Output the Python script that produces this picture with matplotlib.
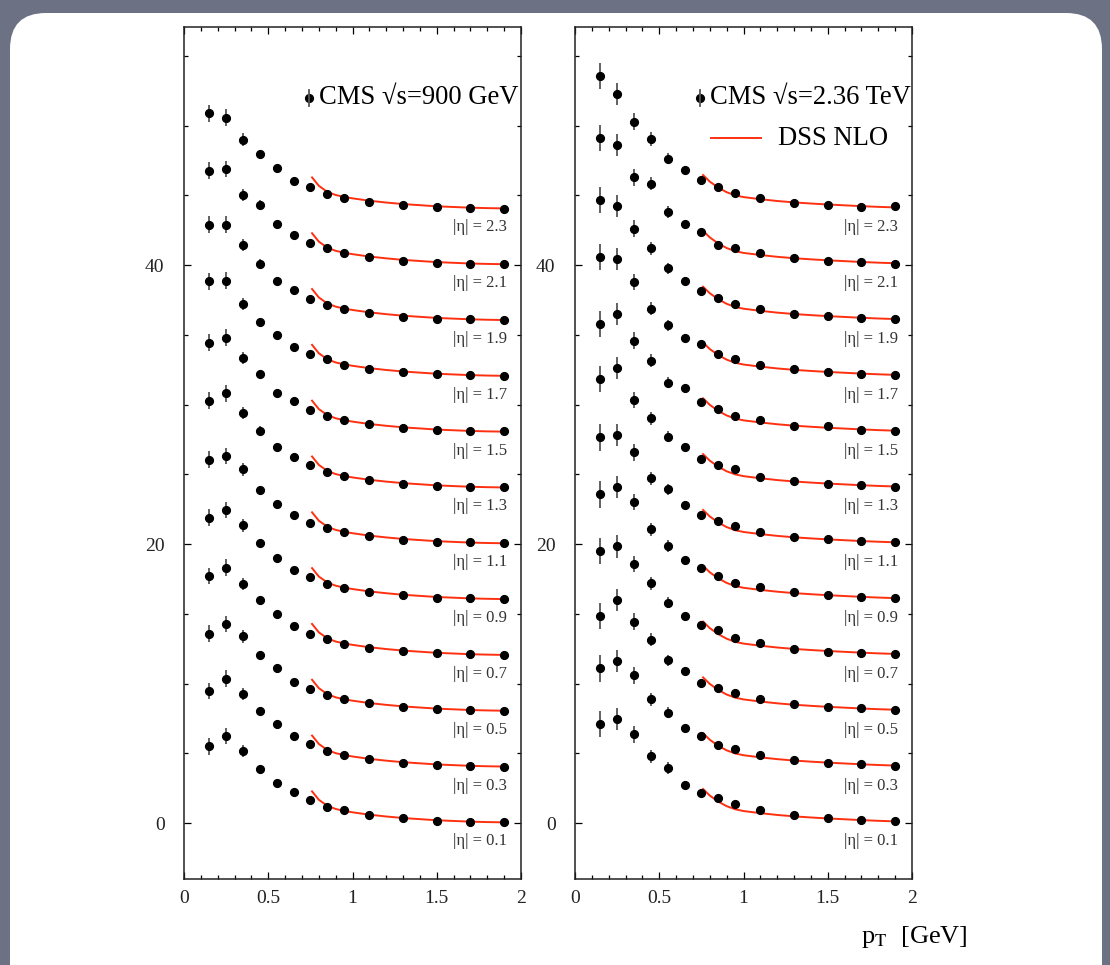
import matplotlib
matplotlib.use("Agg")
import matplotlib.pyplot as plt
from matplotlib.patches import FancyBboxPatch
from matplotlib.ticker import MultipleLocator

plt.rcParams['font.family'] = ['Liberation Serif', 'DejaVu Serif']
plt.rcParams['mathtext.fontset'] = 'stix'

# pT bins (GeV) and |eta| bins
pt = [0.15, 0.25, 0.35, 0.45, 0.55, 0.65, 0.75, 0.85, 0.95, 1.1, 1.3, 1.5, 1.7, 1.9]
eta = [0.1, 0.3, 0.5, 0.7, 0.9, 1.1, 1.3, 1.5, 1.7, 1.9, 2.1, 2.3]
shift = 4.0  # each |eta| bin is shifted up by this amount

# CMS sqrt(s)=900 GeV, one row per |eta| bin (before shift)
cms900 = [
    [5.50, 6.24, 5.16, 3.87, 2.89, 2.22, 1.63, 1.19, 0.93, 0.62, 0.36, 0.19, 0.10, 0.05],
    [5.48, 6.36, 5.27, 4.05, 3.10, 2.24, 1.66, 1.18, 0.88, 0.60, 0.34, 0.18, 0.10, 0.06],
    [5.57, 6.27, 5.39, 4.04, 3.11, 2.09, 1.65, 1.18, 0.87, 0.59, 0.33, 0.18, 0.11, 0.06],
    [5.71, 6.31, 5.13, 3.96, 2.98, 2.13, 1.57, 1.17, 0.86, 0.58, 0.33, 0.17, 0.11, 0.06],
    [5.89, 6.44, 5.34, 4.07, 3.02, 2.18, 1.66, 1.16, 0.86, 0.58, 0.32, 0.17, 0.11, 0.06],
    [6.04, 6.31, 5.35, 3.85, 2.91, 2.06, 1.51, 1.17, 0.84, 0.57, 0.31, 0.17, 0.12, 0.07],
    [6.27, 6.80, 5.41, 4.13, 2.95, 2.21, 1.64, 1.16, 0.85, 0.58, 0.32, 0.17, 0.11, 0.06],
    [6.43, 6.79, 5.33, 4.17, 2.86, 2.23, 1.63, 1.18, 0.86, 0.58, 0.32, 0.17, 0.10, 0.08],
    [6.83, 6.87, 5.20, 3.94, 3.02, 2.14, 1.64, 1.24, 0.85, 0.57, 0.31, 0.17, 0.10, 0.06],
    [6.89, 6.89, 5.43, 4.10, 2.89, 2.21, 1.58, 1.17, 0.86, 0.57, 0.31, 0.16, 0.10, 0.06],
    [6.76, 6.88, 5.02, 4.33, 2.97, 2.17, 1.60, 1.19, 0.84, 0.56, 0.31, 0.16, 0.10, 0.05],
    [6.88, 6.56, 4.98, 3.98, 2.93, 2.04, 1.61, 1.09, 0.78, 0.54, 0.30, 0.16, 0.10, 0.04],
]
err900 = [0.6, 0.6, 0.45, 0.3, 0.2, 0.15, 0.1, 0.1, 0.1, 0.08, 0.05, 0.05, 0.05, 0.05]

# CMS sqrt(s)=2.36 TeV
cms236 = [
    [7.10, 7.48, 6.36, 4.78, 3.96, 2.75, 2.15, 1.78, 1.37, 0.92, 0.58, 0.34, 0.22, 0.15],
    [7.09, 7.62, 6.61, 4.87, 3.93, 2.79, 2.24, 1.57, 1.30, 0.90, 0.55, 0.33, 0.21, 0.13],
    [6.84, 8.01, 6.43, 5.14, 3.68, 2.92, 2.06, 1.70, 1.33, 0.88, 0.52, 0.32, 0.22, 0.12],
    [7.52, 7.84, 6.57, 5.20, 3.79, 2.84, 2.17, 1.86, 1.28, 0.88, 0.50, 0.28, 0.21, 0.11],
    [7.56, 8.11, 7.01, 5.05, 3.86, 2.83, 2.26, 1.68, 1.20, 0.94, 0.54, 0.34, 0.22, 0.15],
    [7.65, 7.84, 6.57, 4.71, 3.92, 2.82, 2.08, 1.65, 1.27, 0.84, 0.50, 0.36, 0.24, 0.12],
    [7.85, 8.64, 6.32, 5.01, 3.69, 2.93, 2.11, 1.64, 1.38, 0.80, 0.54, 0.32, 0.21, 0.11],
    [7.77, 8.49, 6.57, 5.14, 3.56, 3.16, 2.20, 1.68, 1.15, 0.89, 0.48, 0.43, 0.20, 0.12],
    [8.59, 8.45, 6.78, 4.86, 3.68, 2.75, 2.34, 1.64, 1.25, 0.86, 0.52, 0.33, 0.21, 0.12],
    [8.66, 8.23, 6.60, 5.19, 3.78, 2.88, 2.16, 1.61, 1.22, 0.85, 0.50, 0.32, 0.20, 0.12],
    [9.10, 8.60, 6.29, 5.83, 3.80, 2.92, 2.34, 1.46, 1.24, 0.84, 0.49, 0.31, 0.20, 0.10],
    [9.55, 8.24, 6.27, 5.03, 3.62, 2.81, 2.09, 1.57, 1.19, 0.83, 0.47, 0.28, 0.18, 0.20],
]
err236 = [0.95, 0.8, 0.6, 0.47, 0.4, 0.25, 0.2, 0.15, 0.15, 0.1, 0.1, 0.1, 0.1, 0.1]

# DSS NLO curves (same shape for every |eta| bin)
dss_pt = [0.76, 0.8, 0.85, 0.9, 0.95, 1.0, 1.1, 1.2, 1.3, 1.4, 1.5, 1.6, 1.7, 1.8, 1.9]
dss900 = [2.28, 1.68, 1.25, 1.02, 0.88, 0.78, 0.61, 0.48, 0.37, 0.29, 0.21, 0.16, 0.11, 0.08, 0.06]
dss236 = [2.45, 1.98, 1.55, 1.22, 1.00, 0.87, 0.72, 0.59, 0.49, 0.41, 0.34, 0.28, 0.22, 0.17, 0.13]

xticks = [0, 0.5, 1, 1.5, 2]
xticklabels = ['0', '0.5', '1', '1.5', '2']
yticks = [0, 20, 40]
yticklabels = ['0', '20', '40']

W, H = 1110, 965
fig = plt.figure(figsize=(W / 100, H / 100), dpi=100)
fig.patch.set_facecolor('#6c7284')

# white slide background
bg = fig.add_axes([0, 0, 1, 1], zorder=-1)
bg.set_xlim(0, W)
bg.set_ylim(H, 0)
bg.axis('off')
bg.add_patch(FancyBboxPatch((10, 13), 1092, 1000,
                            boxstyle='round,pad=0,rounding_size=36',
                            facecolor='white', edgecolor='none'))

red = '#ff3010'
panels = [
    (184, cms900, err900, dss900, 'CMS \u221as=900 GeV', False),
    (575, cms236, err236, dss236, 'CMS \u221as=2.36 TeV', True),
]

for x0, data, err, dss, title, show_dss in panels:
    ax = fig.add_axes([x0 / W, 1 - 879 / H, 337 / W, 852 / H])
    ax.set_facecolor('white')
    for i, row in enumerate(data):
        off = shift * i
        ax.plot(dss_pt, [v + off for v in dss], color=red, lw=1.4, zorder=2)
        ax.errorbar(pt, [v + off for v in row], yerr=err, fmt='o', color='black',
                    ms=5.6, ecolor='#555555', elinewidth=1.3, capsize=0, zorder=3)
        ax.text(1.915, off - 1.3, '|\u03b7| = %.1f' % eta[i], ha='right', va='center',
                fontsize=12, color='#333333')

    ax.set_xlim(0, 2)
    ax.set_ylim(-4, 57.06)
    ax.set_xticks(xticks)
    ax.set_xticklabels(xticklabels)
    ax.set_yticks(yticks)
    ax.set_yticklabels(yticklabels)
    ax.xaxis.set_minor_locator(MultipleLocator(0.1))
    ax.yaxis.set_minor_locator(MultipleLocator(5))
    ax.tick_params(which='both', direction='in', top=True, right=True,
                   labelsize=14, labelcolor='#222222', width=0.9)
    ax.tick_params(which='major', length=5)
    ax.tick_params(which='minor', length=3)
    ax.tick_params(axis='x', pad=8)
    ax.tick_params(axis='y', pad=14)
    for s in ax.spines.values():
        s.set_linewidth(1.1)
        s.set_color('#222222')

    # key
    tr = ax.transAxes
    ax.plot([0.372], [0.9167], 'o', color='black', ms=5.6, transform=tr)
    ax.plot([0.372, 0.372], [0.9077, 0.9257], color='#555555', lw=1.3, transform=tr)
    ax.text(0.40, 0.9167, title, ha='left', va='center', fontsize=19.2, transform=tr)
    if show_dss:
        ax.plot([0.404, 0.552], [0.8697, 0.8697], color=red, lw=1.4, transform=tr)
        ax.text(0.602, 0.8697, 'DSS NLO', ha='left', va='center', fontsize=19.2,
                transform=tr)

fig.text(861 / W, 1 - 943 / H, r'p$_{\mathrm{T}}$  [GeV]', fontsize=19,
         ha='left', va='baseline')

fig.savefig('out.png', dpi=100, facecolor=fig.get_facecolor())
